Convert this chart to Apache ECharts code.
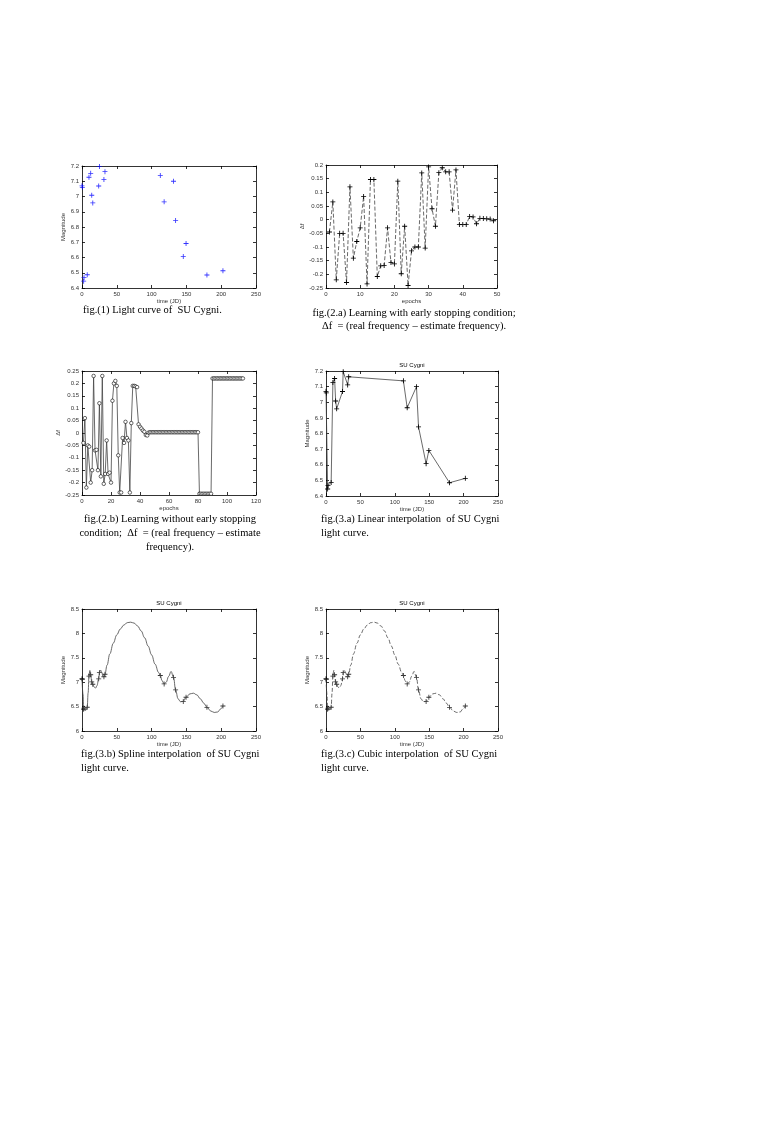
<!DOCTYPE html>
<html>
<head>
<meta charset="utf-8">
<script src="https://cdn.jsdelivr.net/npm/echarts/dist/echarts.min.js"></script>
<style>
  html, body { margin: 0; padding: 0; background: #fff; }
  #page { width: 777px; height: 1132px; }
</style>
</head>
<body>
<div id="page"></div>
<script>
// light curve of SU Cygni (time in JD, magnitude)
var lcTime = [0, 0.5, 2.4, 2.9, 7.5, 10, 12.5, 14, 15.5, 24, 25, 31.5, 33, 112.5, 118, 131.5, 134.5, 145.5, 149.5, 179.5, 202.5];
var lcMag = [7.07, 7.06, 6.445, 6.468, 6.487, 7.126, 7.152, 7.008, 6.958, 7.069, 7.196, 7.111, 7.163, 7.137, 6.965, 7.1, 6.842, 6.607, 6.692, 6.485, 6.513];

// fig 2.a  learning with early stopping, epochs 1..49
var earlyEpoch = [1,2,3,4,5,6,7,8,9,10,11,12,13,14,15,16,17,18,19,20,21,22,23,24,25,26,27,28,29,30,31,32,33,34,35,36,37,38,39,40,41,42,43,44,45,46,47,48,49];
var earlyDf = [-0.045, 0.065, -0.22, -0.05, -0.05, -0.23, 0.12, -0.141, -0.08, -0.03,
  0.085, -0.235, 0.147, 0.147, -0.208, -0.169, -0.168, -0.03, -0.157, -0.162,
  0.141, -0.198, -0.024, -0.241, -0.114, -0.1, -0.1, 0.171, -0.104, 0.193,
  0.04, -0.024, 0.172, 0.19, 0.175, 0.175, 0.035, 0.182, -0.018, -0.018,
  -0.018, 0.012, 0.01, -0.015, 0.005, 0.004, 0.003, 0.002, -0.004];

// fig 2.b  learning without early stopping, epochs 1..111
var fullDf = [-0.04, 0.06, -0.22, -0.05, -0.055, -0.2, -0.15, 0.23, -0.07, -0.068,
  -0.15, 0.12, -0.175, 0.23, -0.205, -0.165, -0.03, -0.165, -0.16, -0.2,
  0.13, 0.2, 0.21, 0.19, -0.09, -0.24, -0.24, -0.02, -0.04, 0.045,
  -0.02, -0.03, -0.24, 0.04, 0.19, 0.19, 0.188, 0.185, 0.035, 0.025,
  0.018, 0.01, 0.005, -0.008, -0.01, 0.002, 0.003, 0.003, 0.003, 0.003,
  0.003, 0.003, 0.003, 0.003, 0.003, 0.003, 0.003, 0.003, 0.003, 0.003,
  0.003, 0.003, 0.003, 0.003, 0.003, 0.003, 0.003, 0.003, 0.003, 0.003,
  0.003, 0.003, 0.003, 0.003, 0.003, 0.003, 0.003, 0.003, 0.003, 0.003,
  -0.245, -0.245, -0.245, -0.245, -0.245, -0.245, -0.245, -0.245, -0.245, 0.22,
  0.22, 0.22, 0.22, 0.22, 0.22, 0.22, 0.22, 0.22, 0.22, 0.22,
  0.22, 0.22, 0.22, 0.22, 0.22, 0.22, 0.22, 0.22, 0.22, 0.22, 0.22];

var curveT = [0, 0.5, 1.5, 2.4, 2.9, 4.5, 6, 7.5, 8.8, 10, 11.3, 12.5, 14, 15.5, 17.5, 19.5, 21.5, 24, 25, 26.5, 28.5, 30, 31.5, 33,
  36, 40, 45, 50, 55, 60, 65, 70, 75, 80, 85, 90, 95, 100, 105, 110, 112.5,
  115, 118, 121, 124.5, 128, 131.5, 134.5, 138, 141.5, 145.5, 149.5, 155, 160, 165, 170, 175, 179.5, 185, 190, 195, 199, 202.5];
var curveMag = [7.07, 7.06, 6.75, 6.445, 6.468, 6.42, 6.43, 6.487, 6.78, 7.126, 7.24, 7.152, 7.008, 6.958, 6.9, 6.88, 6.93, 7.069, 7.196, 7.25, 7.2, 7.12, 7.111, 7.163,
  7.35, 7.58, 7.8, 7.97, 8.09, 8.17, 8.22, 8.23, 8.21, 8.15, 8.05, 7.91, 7.74, 7.56, 7.37, 7.2, 7.137,
  7.03, 6.965, 7.0, 7.12, 7.22, 7.1, 6.842, 6.66, 6.6, 6.607, 6.692, 6.76, 6.775, 6.74, 6.66, 6.57, 6.485, 6.41, 6.38, 6.39, 6.45, 6.513];

var plusSym = 'path://M5,0H7V5H12V7H7V12H5V7H0V5H5Z';
var sans = 'Liberation Sans';
var serif = 'Liberation Serif';

var grids = [
  { left: 82, top: 166, width: 174, height: 122 },
  { left: 326, top: 165, width: 171, height: 123 },
  { left: 82, top: 371, width: 174, height: 124 },
  { left: 326, top: 371, width: 172, height: 125 },
  { left: 82, top: 609, width: 174, height: 122 },
  { left: 326, top: 609, width: 172, height: 122 }
];

function axisPair(grid, dim, min, max, interval, name, gap) {
  var base = {
    gridIndex: grid, type: 'value', min: min, max: max, interval: interval,
    splitLine: { show: false },
    axisLine: { show: true, onZero: false, lineStyle: { color: '#000', width: 0.8 } },
    axisTick: { show: true, inside: true, length: 3, lineStyle: { color: '#000', width: 0.8 } }
  };
  var pos = dim === 'x' ? ['bottom', 'top'] : ['left', 'right'];
  var a = Object.assign({}, base, {
    position: pos[0],
    axisLabel: { fontSize: 6, color: '#333', margin: 3, fontFamily: sans },
    name: name, nameLocation: 'middle', nameGap: gap,
    nameTextStyle: { fontSize: 6, color: '#333', fontFamily: sans }
  });
  var b = Object.assign({}, base, { position: pos[1], axisLabel: { show: false } });
  return [a, b];
}

var xAxes = [].concat(
  axisPair(0, 'x', 0, 250, 50, 'time (JD)', 10),
  axisPair(1, 'x', 0, 50, 10, 'epochs', 10),
  axisPair(2, 'x', 0, 120, 20, 'epochs', 10),
  axisPair(3, 'x', 0, 250, 50, 'time (JD)', 10),
  axisPair(4, 'x', 0, 250, 50, 'time (JD)', 10),
  axisPair(5, 'x', 0, 250, 50, 'time (JD)', 10)
);
var yAxes = [].concat(
  axisPair(0, 'y', 6.4, 7.2, 0.1, 'Magnitude', 13),
  axisPair(1, 'y', -0.25, 0.2, 0.05, 'Δf', 18),
  axisPair(2, 'y', -0.25, 0.25, 0.05, 'Δf', 18),
  axisPair(3, 'y', 6.4, 7.2, 0.1, 'Magnitude', 13),
  axisPair(4, 'y', 6, 8.5, 0.5, 'Magnitude', 13),
  axisPair(5, 'y', 6, 8.5, 0.5, 'Magnitude', 13)
);

function pairs(xs, ys) {
  return xs.map(function (x, i) { return [x, ys[i]]; });
}
var fullEpoch = fullDf.map(function (d, i) { return i + 1; });

var series = [
  {
    type: 'scatter', xAxisIndex: 0, yAxisIndex: 0,
    data: pairs(lcTime, lcMag), symbol: plusSym, symbolSize: 5,
    itemStyle: { color: '#0000ff' }
  },
  {
    type: 'line', xAxisIndex: 2, yAxisIndex: 2,
    data: pairs(earlyEpoch, earlyDf), symbol: plusSym, symbolSize: 5, showAllSymbol: true,
    lineStyle: { color: '#444', width: 0.8, type: [4, 2] },
    itemStyle: { color: '#000' }
  },
  {
    type: 'line', xAxisIndex: 4, yAxisIndex: 4,
    data: pairs(fullEpoch, fullDf), symbol: 'circle', symbolSize: 3.5, showAllSymbol: true,
    lineStyle: { color: '#444', width: 0.8 },
    itemStyle: { color: '#fff', borderColor: '#000', borderWidth: 0.6 }
  },
  {
    type: 'line', xAxisIndex: 6, yAxisIndex: 6,
    data: pairs(lcTime, lcMag), symbol: plusSym, symbolSize: 5, showAllSymbol: true,
    lineStyle: { color: '#444', width: 0.8 },
    itemStyle: { color: '#000' }
  },
  {
    type: 'line', xAxisIndex: 8, yAxisIndex: 8,
    data: pairs(curveT, curveMag), symbol: 'none', smooth: 0.4, smoothMonotone: 'x',
    lineStyle: { color: '#444', width: 0.8 }
  },
  {
    type: 'scatter', xAxisIndex: 8, yAxisIndex: 8,
    data: pairs(lcTime, lcMag), symbol: plusSym, symbolSize: 5,
    itemStyle: { color: '#000' }
  },
  {
    type: 'line', xAxisIndex: 10, yAxisIndex: 10,
    data: pairs(curveT, curveMag), symbol: 'none', smooth: 0.4, smoothMonotone: 'x',
    lineStyle: { color: '#444', width: 0.8, type: [4, 2] }
  },
  {
    type: 'scatter', xAxisIndex: 10, yAxisIndex: 10,
    data: pairs(lcTime, lcMag), symbol: plusSym, symbolSize: 5,
    itemStyle: { color: '#000' }
  }
];

function txt(x, y, s, align, size, family) {
  return {
    type: 'text', x: x, y: y, silent: true,
    style: {
      text: s, fill: '#000', textAlign: align || 'left', textVerticalAlign: 'middle',
      font: (size || 10.5) + 'px "' + (family || serif) + '"'
    }
  };
}

var graphics = [
  txt(83, 310, 'fig.(1) Light curve of  SU Cygni.'),
  txt(414, 313, 'fig.(2.a) Learning with early stopping condition;', 'center'),
  txt(414, 326, 'Δf  = (real frequency – estimate frequency).', 'center'),
  txt(170, 519, 'fig.(2.b) Learning without early stopping', 'center'),
  txt(170, 533, 'condition;  Δf  = (real frequency – estimate', 'center'),
  txt(170, 547, 'frequency).', 'center'),
  txt(321, 519, 'fig.(3.a) Linear interpolation  of SU Cygni'),
  txt(321, 533, 'light curve.'),
  txt(81, 754, 'fig.(3.b) Spline interpolation  of SU Cygni'),
  txt(81, 768, 'light curve.'),
  txt(321, 754, 'fig.(3.c) Cubic interpolation  of SU Cygni'),
  txt(321, 768, 'light curve.'),
  txt(412, 365, 'SU Cygni', 'center', 6, sans),
  txt(169, 603, 'SU Cygni', 'center', 6, sans),
  txt(412, 603, 'SU Cygni', 'center', 6, sans)
];

var chart = echarts.init(document.getElementById('page'), null, { renderer: 'canvas' });
chart.setOption({
  backgroundColor: '#fff',
  animation: false,
  grid: grids,
  xAxis: xAxes,
  yAxis: yAxes,
  series: series,
  graphic: graphics
});
</script>
</body>
</html>
